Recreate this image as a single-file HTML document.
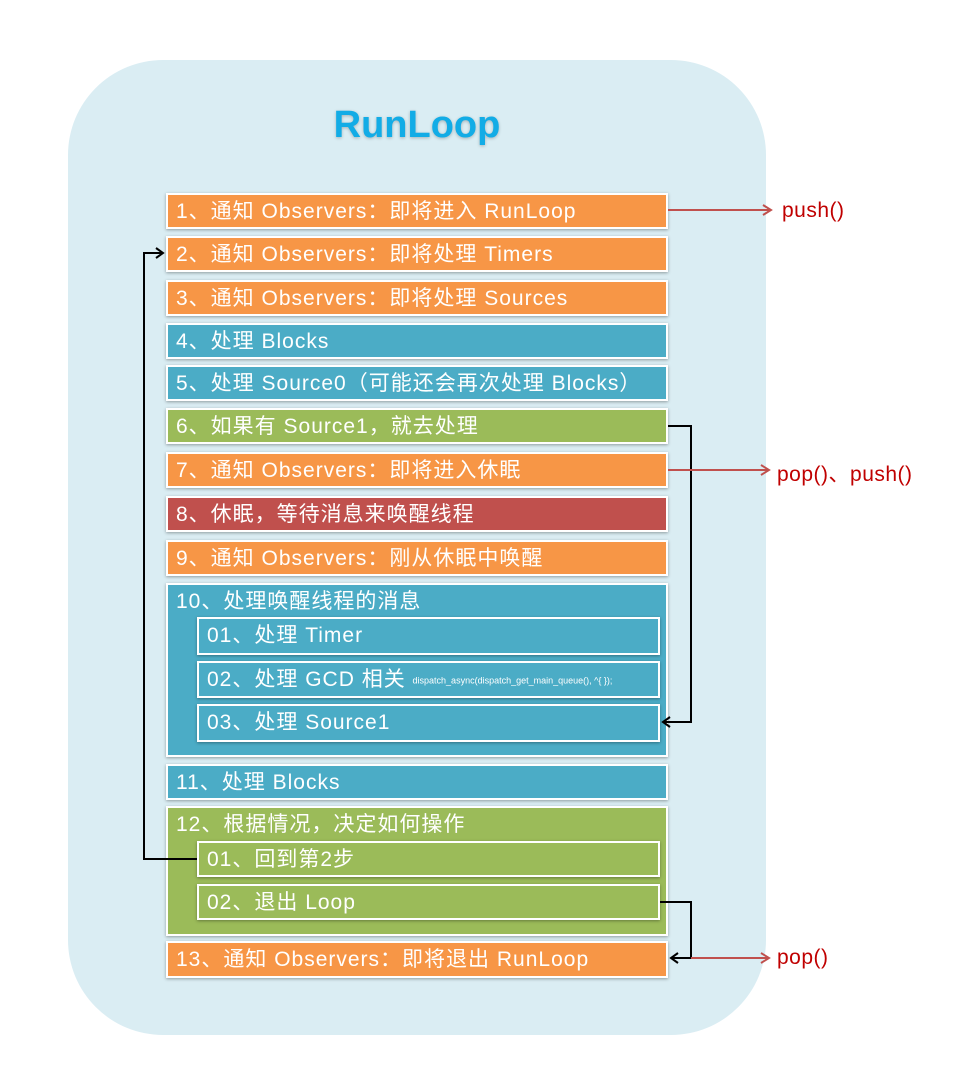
<!DOCTYPE html>
<html><head><meta charset="utf-8"><style>
body{margin:0;width:972px;height:1092px;background:#fff;position:relative;overflow:hidden;font-family:"Liberation Sans","Noto Sans CJK SC",sans-serif}
.bg{position:absolute;left:68px;top:60px;width:698px;height:975px;background:#DAEDF3;border-radius:95px}
.t{position:absolute;left:0;width:834px;top:104px;text-align:center;font-size:38px;font-weight:bold;color:#12ACE6;text-shadow:0 1px 3px rgba(0,0,0,.25)}
.b{position:absolute;box-sizing:border-box;border:2px solid #fff;box-shadow:0 1px 3px rgba(0,0,0,.35);color:#fff;font-size:21px;letter-spacing:1px;padding-left:8px;line-height:34px;white-space:nowrap}
.o{background:#F79646}.u{background:#4BACC6}.g{background:#9BBB59}.r{background:#C0504D}
.lab{position:absolute;color:#C00000;font-size:21px;letter-spacing:0.5px}
</style></head><body>
<div class="bg"></div>
<div class="t">RunLoop</div>
<div class="b o" style="left:166px;top:193px;width:502px;height:36px">1、通知 Observers：即将进入 RunLoop</div>
<div class="b o" style="left:166px;top:236px;width:502px;height:36px">2、通知 Observers：即将处理 Timers</div>
<div class="b o" style="left:166px;top:280px;width:502px;height:36px">3、通知 Observers：即将处理 Sources</div>
<div class="b u" style="left:166px;top:323px;width:502px;height:36px">4、处理 Blocks</div>
<div class="b u" style="left:166px;top:365px;width:502px;height:36px">5、处理 Source0（可能还会再次处理 Blocks）</div>
<div class="b g" style="left:166px;top:408px;width:502px;height:36px">6、如果有 Source1，就去处理</div>
<div class="b o" style="left:166px;top:452px;width:502px;height:36px">7、通知 Observers：即将进入休眠</div>
<div class="b r" style="left:166px;top:496px;width:502px;height:36px">8、休眠，等待消息来唤醒线程</div>
<div class="b o" style="left:166px;top:540px;width:502px;height:36px">9、通知 Observers：刚从休眠中唤醒</div>
<div class="b u" style="left:166px;top:583px;width:502px;height:174px">10、处理唤醒线程的消息</div>
<div class="b u" style="left:197px;top:617px;width:463px;height:38px">01、处理 Timer</div>
<div class="b u" style="left:197px;top:661px;width:463px;height:37px">02、处理 GCD 相关 <span style="font-size:9px;letter-spacing:0;vertical-align:middle">dispatch_async(dispatch_get_main_queue(), ^{ });</span></div>
<div class="b u" style="left:197px;top:704px;width:463px;height:38px">03、处理 Source1</div>
<div class="b u" style="left:166px;top:764px;width:502px;height:36px">11、处理 Blocks</div>
<div class="b g" style="left:166px;top:806px;width:502px;height:130px">12、根据情况，决定如何操作</div>
<div class="b g" style="left:197px;top:841px;width:463px;height:36px">01、回到第2步</div>
<div class="b g" style="left:197px;top:884px;width:463px;height:36px">02、退出 Loop</div>
<div class="b o" style="left:166px;top:941px;width:502px;height:37px">13、通知 Observers：即将退出 RunLoop</div>
<svg style="position:absolute;left:0;top:0" width="972" height="1092">
<g fill="none" stroke="#000" stroke-width="2">
<polyline points="197,859 144,859 144,253 162,253"/>
<polyline points="156,248 163,253 156,258"/>
<polyline points="668,426 691,426 691,722 663,722"/>
<polyline points="670,717 663,722 670,727"/>
<polyline points="660,902 691,902 691,958 671,958"/>
<polyline points="678,953 671,958 678,963"/>
</g>
<g fill="none" stroke="#C0504D" stroke-width="2">
<line x1="668" y1="210" x2="771" y2="210"/><polyline points="763,205 771,210 763,215"/>
<line x1="668" y1="470" x2="769" y2="470"/><polyline points="761,465 769,470 761,475"/>
<line x1="691" y1="958" x2="769" y2="958"/><polyline points="761,953 769,958 761,963"/>
</g>
</svg>
<div class="lab" style="left:782px;top:199px">push()</div>
<div class="lab" style="left:777px;top:458px">pop()、push()</div>
<div class="lab" style="left:777px;top:946px">pop()</div>
</body></html>
